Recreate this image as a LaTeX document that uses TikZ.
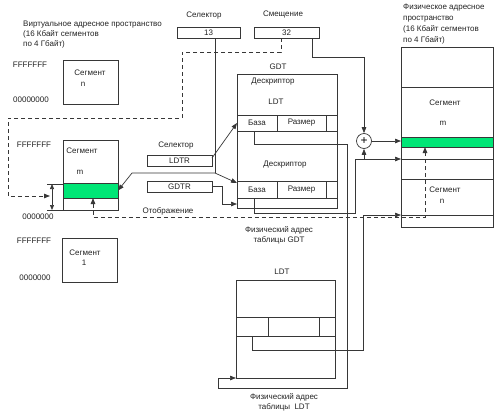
\documentclass[tikz,border=0pt]{standalone}
\usepackage{fontspec}
\setmainfont{Liberation Sans}
\usetikzlibrary{arrows.meta}
\definecolor{ln}{RGB}{55,55,55}
\definecolor{grn}{RGB}{0,230,118}
\definecolor{txt}{RGB}{35,35,35}
\begin{document}
\begin{tikzpicture}[x=1pt,y=-1pt, font=\fontsize{8}{10}\selectfont,
 box/.style={draw=ln, line width=0.7pt, inner sep=0pt, outer sep=0pt, text=txt},
 conn/.style={draw=ln, line width=0.7pt},
 arr/.style={conn, -{Triangle[length=6pt,width=4.5pt]}},
 dsh/.style={draw=ln, line width=0.9pt, dash pattern=on 4pt off 3pt},
 lbl/.style={inner sep=0pt, text=txt}]
\useasboundingbox[fill=white] (0,0) rectangle (495,418);

% top selector / offset
\node[lbl] (selL) at (204,16) {Селектор};
\node[lbl] (offL) at (283,15) {Смещение};
\node[box, minimum width=63pt, minimum height=11pt] (sel) at (208.5,32.5) {13};
\node[box, minimum width=65pt, minimum height=11pt] (off) at (286.5,32.5) {32};

% labels
\node[lbl, anchor=north west, align=left, font=\fontsize{8}{10}\selectfont] (virtL) at (23,21)
 {Виртуальное адресное пространство\\(16 Кбайт сегментов\\по 4 Гбайт)};
\node[lbl, anchor=north west, align=left, font=\fontsize{8}{11}\selectfont] (physL) at (403,4)
 {Физическое адресное\\пространство\\(16 Кбайт сегментов\\по 4 Гбайт)};

% virtual segments
\node[box, minimum width=55pt, minimum height=44pt] (segn) at (90.5,82) {};
\node[lbl] at (90,73) {Сегмент};
\node[lbl] at (83,84) {n};
\node[lbl] at (30,65) {FFFFFFF};
\node[lbl] at (31,100) {00000000};

\node[box, minimum width=55pt, minimum height=70pt] (segm) at (90.5,175) {};
\node[box, fill=grn, minimum width=55pt, minimum height=15pt] (grm) at (90.5,190.5) {};
\node[lbl] at (82,151) {Сегмент};
\node[lbl] at (80,172) {m};
\node[lbl] at (34,145) {FFFFFFF};
\node[lbl] at (38,217) {0000000};

\node[box, minimum width=55pt, minimum height=44pt] (seg1) at (89.5,260) {};
\node[lbl] at (85,253) {Сегмент};
\node[lbl] at (84,263) {1};
\node[lbl] at (34,241) {FFFFFFF};
\node[lbl] at (35,278) {0000000};

% registers
\node[lbl] (ldtrL) at (176,146) {Селектор};
\node[box, minimum width=65pt, minimum height=11pt] (ldtr) at (179.5,160.5) {LDTR};
\node[box, minimum width=65pt, minimum height=11pt] (gdtr) at (179.5,186.5) {GDTR};

% GDT
\node[lbl] (gdtL) at (278,67) {GDT};
\node[box, minimum width=100pt, minimum height=134pt] (gdt) at (287,141) {};
\node[lbl] at (273,82) {Дескриптор};
\node[lbl] at (276,102) {LDT};
\node[box, minimum width=40pt, minimum height=16pt] (baza1) at (257,123) {База};
\node[box, minimum width=49pt, minimum height=16pt] (razm1) at (301.5,123) {Размер};
\node[box, minimum width=11pt, minimum height=16pt] (ex1) at (331.5,123) {};
\node[lbl] at (285,165) {Дескриптор};
\node[box, minimum width=40pt, minimum height=17pt] (baza2) at (257,189.5) {База};
\node[box, minimum width=49pt, minimum height=17pt] (razm2) at (301.5,189.5) {Размер};
\node[box, minimum width=11pt, minimum height=17pt] (ex2) at (331.5,189.5) {};

% LDT
\node[lbl] (ldtL) at (282,272) {LDT};
\node[box, minimum width=99pt, minimum height=98pt] (ldt) at (285.5,329) {};
\node[box, minimum width=32pt, minimum height=19pt] (lc1) at (252,326.5) {};
\node[box, minimum width=51pt, minimum height=19pt] (lc2) at (293.5,326.5) {};
\node[box, minimum width=16pt, minimum height=19pt] (lc3) at (327,326.5) {};

% physical memory
\node[box, minimum width=92pt, minimum height=180pt] (phys) at (447,137) {};
\draw[conn] (phys.west |- 0,87) -- (phys.east |- 0,87);
\draw[conn] (phys.west |- 0,159) -- (phys.east |- 0,159);
\draw[conn] (phys.west |- 0,179) -- (phys.east |- 0,179);
\draw[conn] (phys.west |- 0,215) -- (phys.east |- 0,215);
\node[box, fill=grn, minimum width=92pt, minimum height=10pt] (grp) at (447,142) {};
\node[lbl] at (445,103) {Сегмент};
\node[lbl] at (443,123) {m};
\node[lbl] at (445,190) {Сегмент};
\node[lbl] at (442,201) {n};

% adder
\node[circle, draw=ln, line width=0.7pt, fill=white, minimum size=15pt, inner sep=0pt, font=\fontsize{12}{12}\selectfont] (plus) at (364,141) {+};

% other labels
\node[lbl] (mapL) at (168,211) {Отображение};
\node[lbl, align=center] (gdtaddr) at (279,235) {Физический адрес\\таблицы GDT};
\node[lbl, align=center] (ldtaddr) at (284,402) {Физический адрес\\таблицы \ LDT};

% coordinates
\coordinate (j1) at (215,173);
\coordinate (j2) at (132,173);
\coordinate (a1) at (347,144);
\coordinate (a2) at (347,388);
\coordinate (a3) at (218,388);
\coordinate (b1) at (355,213);
\coordinate (p159) at (401,159);
\coordinate (o1) at (312,57);
\coordinate (d1) at (363,350);
\coordinate (p215) at (401,215);
\coordinate (w1) at (182,52);
\coordinate (w2) at (8,118);
\coordinate (dimm) at (50,196);
\coordinate (m1) at (425,217);
\coordinate (t1) at (52,184);
\coordinate (t2) at (52,210);

% selector connectors
\draw[conn] (sel.south -| j1) -- (j1);
\draw[arr] (j1) -- (j2) -- (grm.east);
\draw[arr] (j1) -- ([yshift=-2pt]baza2.north west);
\draw[arr] ([yshift=-3pt]ldtr.north east) -- (baza1.west);
\draw[arr] (gdtr.east) -- ++(10,0) |- ([yshift=4pt]gdt.south west);

% descriptor bases
\draw[arr] ([xshift=-3pt]baza1.south) |- (a1) -- (a2) -- (a3) |- (ldt.south west);
\draw[arr] ([xshift=-3pt]baza2.south) |- (b1) |- (p159);
\draw[arr] (plus.south |- p159) -- (plus.south);
\draw[arr] ([xshift=-7pt]off.south east) -- (o1) -| (plus.north);
\draw[arr] (plus.east) -- (plus.east -| phys.west);
\draw[arr] (lc1.south) |- (d1) |- (p215);

% dashed lines
\draw[dsh, -{Triangle[length=6pt,width=4.5pt]}] ([xshift=-5.5pt]off.south) |- (w1) |- (w2) |- (dimm);
\draw[dsh, {Triangle[length=6pt,width=4.5pt]}-{Triangle[length=6pt,width=4.5pt]}] ([xshift=2.5pt]grm.south) |- (m1) -- ([xshift=-22pt]grp.south);

% dimension
\draw[conn, {Triangle[length=5pt,width=4pt]}-{Triangle[length=5pt,width=4pt]}] (t1) -- (t2);
\draw[conn] ([xshift=-5pt]t1) -- (segm.west |- t1);
\draw[conn] ([xshift=-5pt]t2) -- (segm.west |- t2);
\end{tikzpicture}
\end{document}
